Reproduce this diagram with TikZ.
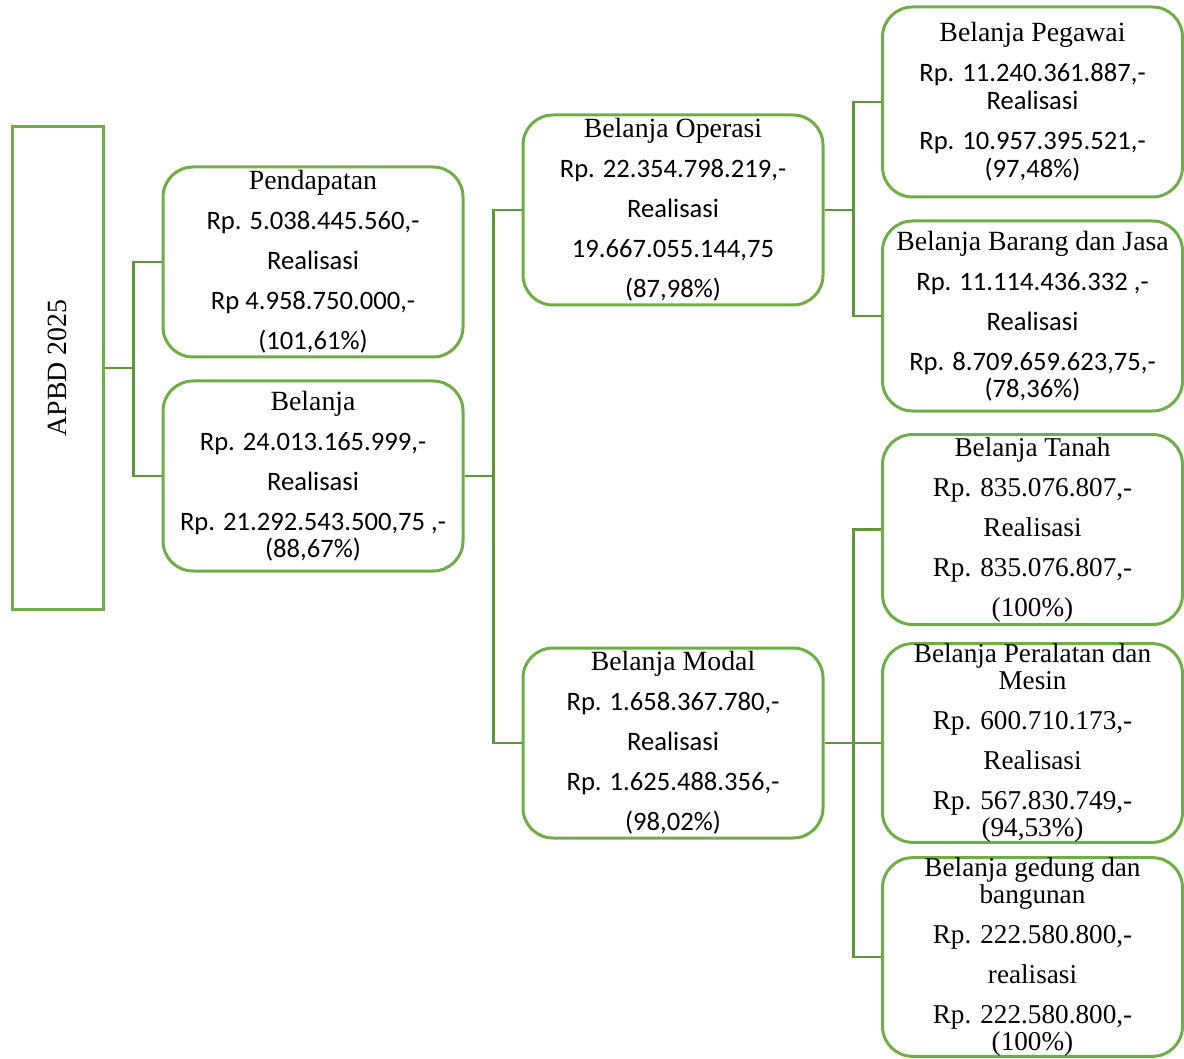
\documentclass[tikz,border=0pt]{standalone}
\usepackage{fontspec}
\setmainfont{Liberation Serif}
\newfontfamily\numfont{Carlito}
\usepackage{tikz}
\usetikzlibrary{positioning}

\definecolor{boxgreen}{RGB}{112,173,71}
\definecolor{linegreen}{RGB}{96,150,58}

% one line in the sans face
\newcommand{\numtxt}[1]{{\numfont\fontsize{13.3}{20}\selectfont #1}}

\tikzset{
  box/.style={draw=boxgreen, line width=1.5pt, rounded corners=15pt,
    minimum width=150pt, minimum height=95pt, inner sep=0pt, align=center,
    font=\fontsize{13.9}{20}\selectfont},
  conn/.style={draw=linegreen, line width=1.2pt}
}

\begin{document}
\begin{tikzpicture}[x=0.5pt,y=-0.5pt]
    \useasboundingbox (0,0) rectangle (1184,1059);

    % Root
    \node[draw=boxgreen, line width=1.5pt, minimum width=45.5pt, minimum height=241pt,
      font=\fontsize{13.9}{16}\selectfont] (apbd) at (57.5,368) {\rotatebox{90}{APBD 2025}};

    % Level 1
    \node[box] (pendapatan) at (313,262) {Pendapatan\\ \numtxt{Rp. 5.038.445.560,-}\\
      \numtxt{Realisasi}\\ \numtxt{Rp 4.958.750.000,-}\\ \numtxt{(101,61\%)}};
    \node[box] (belanja) at (313,476) {Belanja\\ \numtxt{Rp. 24.013.165.999,-}\\
      \numtxt{Realisasi}\\ \numtxt{Rp. 21.292.543.500,75 ,-}\\[-6.5pt] \numtxt{(88,67\%)}};

    % Level 2
    \node[box] (operasi) at (673,210) {Belanja Operasi\\ \numtxt{Rp. 22.354.798.219,-}\\
      \numtxt{Realisasi}\\ \numtxt{19.667.055.144,75}\\ \numtxt{(87,98\%)}};
    \node[box] (modal) at (673,743) {Belanja Modal\\ \numtxt{Rp. 1.658.367.780,-}\\
      \numtxt{Realisasi}\\ \numtxt{Rp. 1.625.488.356,-}\\ \numtxt{(98,02\%)}};

    % Level 3
    \node[box] (pegawai) at (1032.5,102) {Belanja Pegawai\\ \numtxt{Rp. 11.240.361.887,-}\\[-6pt]
      \numtxt{Realisasi}\\ \numtxt{Rp. 10.957.395.521,-}\\[-6pt] \numtxt{(97,48\%)}};
    \node[box] (barang) at (1032.5,316) {Belanja Barang dan Jasa\\ \numtxt{Rp. 11.114.436.332 ,-}\\
      \numtxt{Realisasi}\\ \numtxt{Rp. 8.709.659.623,75,-}\\[-6.5pt] \numtxt{(78,36\%)}};
    \node[box, font=\fontsize{13.6}{20}\selectfont] (tanah) at (1032.5,529.5) {Belanja Tanah\\
      Rp. 835.076.807,-\\ Realisasi\\ Rp. 835.076.807,-\\ (100\%)};
    \node[box, font=\fontsize{13.6}{20}\selectfont] (peralatan) at (1032.5,743) {Belanja Peralatan dan\\[-6.5pt]
      Mesin\\ Rp. 600.710.173,-\\ Realisasi\\ Rp. 567.830.749,-\\[-6.5pt] (94,53\%)};
    \node[box, font=\fontsize{13.6}{20}\selectfont] (gedung) at (1032.5,957) {Belanja gedung dan\\[-6.5pt]
      bangunan\\ Rp. 222.580.800,-\\ realisasi\\ Rp. 222.580.800,-\\[-6.5pt] (100\%)};

    % Elbow connectors
    \foreach \from/\to in {apbd/pendapatan, apbd/belanja, belanja/operasi, belanja/modal,
      operasi/pegawai, operasi/barang, modal/tanah, modal/peralatan, modal/gedung} {
      \draw[conn] (\from.east) -- ++(29,0) |- (\to.west);
    }

  \end{tikzpicture}
\end{document}
